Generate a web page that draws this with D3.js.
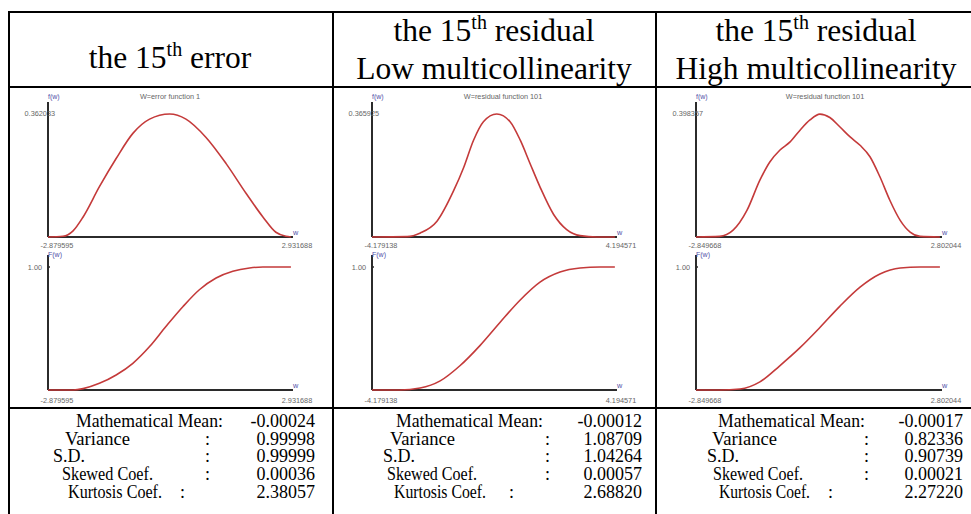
<!DOCTYPE html>
<html><head><meta charset="utf-8">
<script src="https://cdn.jsdelivr.net/npm/d3@7"></script>
<style>body{margin:0;background:#fff}</style>
</head><body><svg id="c" width="971" height="514"></svg>
<script>
// ---------- data ----------
const headerLine1 = ["the 15", "the 15", "the 15"];
const headerSup = ["th", "th", "th"];
const headerLine1End = [" error", " residual", " residual"];
const headerLine2 = ["", "Low multicollinearity", "High multicollinearity"];
const chartTitles = ["W=error function 1", "W=residual function 101", "W=residual function 101"];
const wMin = [-2.879595, -4.179138, -2.849668];
const wMax = [2.931688, 4.194571, 2.802044];
const fMax = [0.362033, 0.365925, 0.398357];
const cdfTop = [1.00, 1.00, 1.00];

// column 1 : the 15th error
const pdfW1 = [-2.88, -2.52, -2.28, -2.04, -1.65, -1.25, -0.85, -0.45, 0.03, 0.42, 0.90, 1.38, 1.86, 2.26, 2.57, 2.81, 2.93];
const pdfF1 = [0, 0.002, 0.018, 0.059, 0.148, 0.231, 0.305, 0.347, 0.362, 0.347, 0.293, 0.216, 0.128, 0.059, 0.014, 0.002, 0];
const cdfW1 = [-2.88, -2.28, -2.04, -1.65, -1.25, -0.85, -0.45, -0.06, 0.35, 0.74, 1.14, 1.54, 1.94, 2.26, 2.93];
const cdfF1 = [0, 0, 0.011, 0.054, 0.122, 0.217, 0.353, 0.516, 0.679, 0.815, 0.91, 0.965, 0.992, 1, 1];
// column 2 : residual, low multicollinearity
const pdfW2 = [-4.18, -2.97, -2.51, -1.94, -1.37, -1.02, -0.68, -0.34, 0.12, 0.58, 0.93, 1.27, 1.62, 2.08, 2.53, 2.99, 3.57, 4.19];
const pdfF2 = [0, 0.001, 0.012, 0.047, 0.137, 0.207, 0.288, 0.343, 0.366, 0.343, 0.288, 0.218, 0.147, 0.067, 0.022, 0.004, 0, 0];
const cdfW2 = [-4.18, -3.22, -2.52, -1.83, -1.15, -0.46, 0.23, 0.92, 1.61, 2.30, 2.99, 3.68, 4.19];
const cdfF2 = [0, 0, 0.016, 0.074, 0.197, 0.361, 0.549, 0.73, 0.877, 0.959, 0.992, 1, 1];
// column 3 : residual, high multicollinearity
const pdfW3 = [-2.85, -2.30, -1.99, -1.67, -1.37, -1.14, -0.91, -0.67, -0.44, -0.21, 0.02, 0.25, 0.48, 0.72, 0.95, 1.18, 1.41, 1.64, 1.88, 2.11, 2.34, 2.80];
const pdfF3 = [0, 0.002, 0.022, 0.086, 0.184, 0.243, 0.281, 0.308, 0.346, 0.379, 0.398, 0.387, 0.357, 0.324, 0.297, 0.260, 0.195, 0.119, 0.054, 0.016, 0.002, 0];
const cdfW3 = [-2.85, -2.30, -1.83, -1.37, -0.91, -0.44, 0.02, 0.48, 0.95, 1.41, 1.88, 2.34, 2.80];
const cdfF3 = [0, 0, 0.008, 0.066, 0.197, 0.344, 0.508, 0.68, 0.836, 0.943, 0.992, 1, 1];

const statLabels = ["Mathematical Mean:", "Variance", "S.D.", "Skewed Coef.", "Kurtosis Coef."];
const statsError = ["-0.00024", "0.99998", "0.99999", "0.00036", "2.38057"];
const statsLow = ["-0.00012", "1.08709", "1.04264", "0.00057", "2.68820"];
const statsHigh = ["-0.00017", "0.82336", "0.90739", "0.00021", "2.27220"];

// ---------- layout ----------
const svg = d3.select("#c");
svg.append("rect").attr("width", 971).attr("height", 514).attr("fill", "#fff");
const ink = "#000";
const serif = "'Liberation Serif','Times New Roman',serif";
const sans = "'Liberation Sans',Arial,sans-serif";

// table lines
const tl = svg.append("g").attr("stroke", ink).attr("stroke-width", 2);
tl.append("line").attr("x1", 8).attr("x2", 971).attr("y1", 12).attr("y2", 12);
tl.append("line").attr("x1", 9).attr("x2", 9).attr("y1", 11).attr("y2", 514);
[333, 656].forEach(x => tl.append("line").attr("x1", x).attr("x2", x).attr("y1", 12).attr("y2", 514));
tl.append("line").attr("x1", 8).attr("x2", 971).attr("y1", 87).attr("y2", 87);
tl.append("line").attr("x1", 8).attr("x2", 971).attr("y1", 408).attr("y2", 408);

// headers
const headCx = [170, 494, 816];
headerLine1.forEach((t, i) => {
  const y1 = headerLine2[i] ? 41 : 68;
  const tx = svg.append("text").attr("x", headCx[i]).attr("y", y1).attr("text-anchor", "middle")
    .attr("font-family", serif).attr("font-size", 31.5).attr("fill", ink);
  tx.append("tspan").text(t);
  tx.append("tspan").attr("font-size", 20).attr("dy", -12).text(headerSup[i]);
  tx.append("tspan").attr("dy", 12).text(headerLine1End[i]);
  if (headerLine2[i]) {
    svg.append("text").attr("x", headCx[i]).attr("y", 79).attr("text-anchor", "middle")
      .attr("font-family", serif).attr("font-size", 31.5).attr("fill", ink).text(headerLine2[i]);
  }
});

// chart images (white background)
const imgX = [[23, 318], [345, 643], [672, 968]];
imgX.forEach(([a, b]) => svg.append("rect").attr("x", a).attr("y", 89).attr("width", b - a).attr("height", 317).attr("fill", "#fff"));

const pdfWs = [pdfW1, pdfW2, pdfW3], pdfFs = [pdfF1, pdfF2, pdfF3];
const cdfWs = [cdfW1, cdfW2, cdfW3], cdfFs = [cdfF1, cdfF2, cdfF3];
const axisX0 = [48, 372, 696], axisX1 = [291, 615, 940];
const titleCx = [170, 503, 825];
const curveColor = "#c43a3a", axisColor = "#2b2b2b", labelColor = "#666", blue = "#5050a8";

for (let i = 0; i < 3; i++) {
  const g = svg.append("g");
  const x = d3.scaleLinear().domain([wMin[i], wMax[i]]).range([axisX0[i], axisX1[i]]);
  const yP = d3.scaleLinear().domain([0, fMax[i]]).range([237, 114]);
  const yC = d3.scaleLinear().domain([0, cdfTop[i]]).range([390, 267]);
  const x0 = x(wMin[i]), x1 = x(wMax[i]);

  // PDF panel
  g.append("line").attr("x1", x0).attr("x2", x0).attr("y1", 102).attr("y2", yP(0)).attr("stroke", axisColor).attr("stroke-width", 2);
  g.append("line").attr("x1", x0).attr("x2", x1 + 2).attr("y1", yP(0)).attr("y2", yP(0)).attr("stroke", axisColor).attr("stroke-width", 2);
  g.append("text").attr("x", x0).attr("y", 99).attr("font-family", sans).attr("font-size", 7).attr("fill", blue).text("f(w)");
  g.append("text").attr("x", titleCx[i]).attr("y", 99).attr("text-anchor", "middle").attr("font-family", sans).attr("font-size", 7.3).attr("fill", labelColor).text(chartTitles[i]);
  g.append("text").attr("x", x0 + 7).attr("y", yP(fMax[i]) + 2).attr("text-anchor", "end").attr("font-family", sans).attr("font-size", 7.3).attr("fill", labelColor).text(fMax[i].toFixed(6));
  g.append("text").attr("x", x1 + 2).attr("y", yP(0) - 2).attr("font-family", sans).attr("font-size", 7.3).attr("fill", blue).text("w");
  g.append("text").attr("x", x0 + 9).attr("y", 248).attr("text-anchor", "middle").attr("font-family", sans).attr("font-size", 7.3).attr("fill", labelColor).text(wMin[i].toFixed(6));
  g.append("text").attr("x", x1 + 6).attr("y", 248).attr("text-anchor", "middle").attr("font-family", sans).attr("font-size", 7.3).attr("fill", labelColor).text(wMax[i].toFixed(6));
  const pdfLine = d3.line().x(d => x(d[0])).y(d => yP(d[1])).curve(d3.curveMonotoneX);
  g.append("path").attr("d", pdfLine(d3.zip(pdfWs[i], pdfFs[i]))).attr("fill", "none").attr("stroke", curveColor).attr("stroke-width", 1.6);

  // CDF panel
  g.append("line").attr("x1", x0).attr("x2", x0).attr("y1", 255).attr("y2", yC(0)).attr("stroke", axisColor).attr("stroke-width", 2);
  g.append("line").attr("x1", x0).attr("x2", x1 + 2).attr("y1", yC(0)).attr("y2", yC(0)).attr("stroke", axisColor).attr("stroke-width", 2);
  g.append("line").attr("x1", x0).attr("x2", x0 + 2).attr("y1", yC(cdfTop[i])).attr("y2", yC(cdfTop[i])).attr("stroke", axisColor).attr("stroke-width", 1.5);
  g.append("text").attr("x", x0).attr("y", 257).attr("font-family", sans).attr("font-size", 7).attr("fill", blue).text("F(w)");
  g.append("text").attr("x", x0 - 6).attr("y", yC(cdfTop[i]) + 3).attr("text-anchor", "end").attr("font-family", sans).attr("font-size", 7.3).attr("fill", labelColor).text(cdfTop[i].toFixed(2));
  g.append("text").attr("x", x1 + 2).attr("y", yC(0) - 2).attr("font-family", sans).attr("font-size", 7.3).attr("fill", blue).text("w");
  g.append("text").attr("x", x0 + 9).attr("y", 403).attr("text-anchor", "middle").attr("font-family", sans).attr("font-size", 7.3).attr("fill", labelColor).text(wMin[i].toFixed(6));
  g.append("text").attr("x", x1 + 6).attr("y", 403).attr("text-anchor", "middle").attr("font-family", sans).attr("font-size", 7.3).attr("fill", labelColor).text(wMax[i].toFixed(6));
  const cdfLine = d3.line().x(d => x(d[0])).y(d => yC(d[1])).curve(d3.curveMonotoneX);
  g.append("path").attr("d", cdfLine(d3.zip(cdfWs[i], cdfFs[i]))).attr("fill", "none").attr("stroke", curveColor).attr("stroke-width", 1.6);
}

// statistics
const statSets = [statsError, statsLow, statsHigh];
const labelXs = [[76, 65, 53, 62, 68], [396, 390, 383, 387, 394], [718, 712, 707, 713, 719]];
const labelLens = [[147, 65, 32, 91, 94], [147, 65, 32, 90, 92], [147, 65, 32, 90, 91]];
const colonXs = [[null, 205, 205, 205, 180], [null, 545, 545, 545, 509], [null, 864, 864, 864, 828]];
const valueRight = [315, 642, 963];
const rowY = [427, 445, 462, 480, 498];
statSets.forEach((vals, c) => {
  statLabels.forEach((lab, r) => {
    svg.append("text").attr("x", labelXs[c][r]).attr("y", rowY[r]).attr("font-family", serif).attr("font-size", 18)
      .attr("textLength", labelLens[c][r]).attr("lengthAdjust", "spacingAndGlyphs").attr("fill", ink).text(lab);
    if (colonXs[c][r] !== null)
      svg.append("text").attr("x", colonXs[c][r]).attr("y", rowY[r]).attr("font-family", serif).attr("font-size", 18).attr("fill", ink).text(":");
    svg.append("text").attr("x", valueRight[c]).attr("y", rowY[r]).attr("text-anchor", "end").attr("font-family", serif).attr("font-size", 18).attr("fill", ink).text(vals[r]);
  });
});
</script></body></html>
